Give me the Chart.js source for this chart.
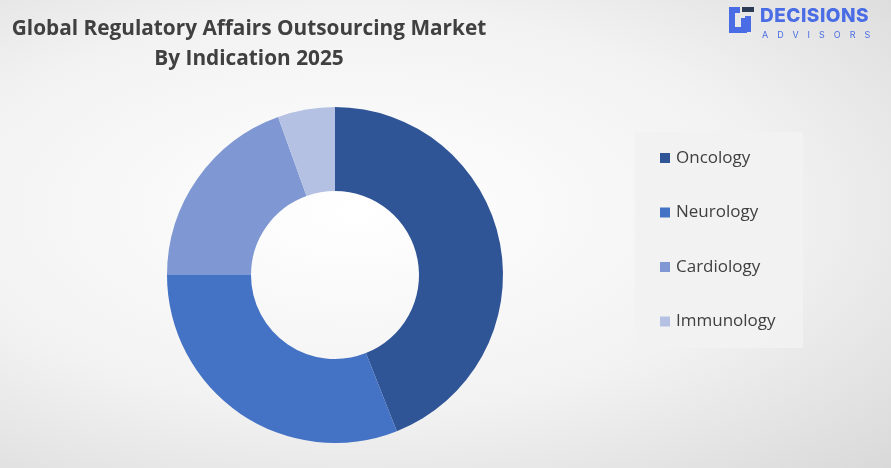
<!DOCTYPE html>
<html><head><meta charset="utf-8">
<script src="https://cdn.jsdelivr.net/npm/chart.js@4"></script>
<style>
html,body{margin:0;padding:0;}
body{width:891px;height:468px;overflow:hidden;position:relative;font-family:"Open Sans",sans-serif;
 background:radial-gradient(ellipse at 40% 45%,#ffffff 0%,#f2f2f2 55%,#d9d9d9 100%);}
#title{position:absolute;left:0;top:12px;width:498px;text-align:center;font-weight:bold;font-size:20.8px;line-height:30px;color:#404040;}
#logo{position:absolute;left:728px;top:4px;}
#logo .a{font-family:Inter,sans-serif;font-weight:800;font-size:19px;color:#4a6de5;letter-spacing:0.5px;position:absolute;left:32px;top:0;}
#logo .b{font-family:Inter,sans-serif;font-size:9px;color:#4a6de5;letter-spacing:9px;position:absolute;left:34px;top:25px;}
#wrap{position:absolute;left:0;top:0;width:891px;height:468px;}
</style></head><body>
<div id="wrap"><canvas id="c" width="891" height="468"></canvas></div>
<div id="title">Global Regulatory Affairs Outsourcing Market<br>By Indication 2025</div>
<div id="logo"><svg width="30" height="32" viewBox="0 0 30 32"><path d="M12 6 H4 V26 H16 V14" fill="none" stroke="#4a6de5" stroke-width="6"/><rect x="14" y="3" width="12" height="5" fill="#2b3a55"/><path d="M20 12 V28" stroke="#4a6de5" stroke-width="6"/></svg>
<span class="a">DECISIONS</span><span class="b">ADVISORS</span></div>
<script>
const categories = ['Oncology', 'Neurology', 'Cardiology', 'Immunology'];
const shares = [44, 31, 19.5, 5.5];
const colors = ['#2F5597', '#4472C4', '#7F97D3', '#B4C1E3'];

// legend drawn by hand so it does not shrink the doughnut
const legendBox = {
  id: 'legendBox',
  beforeDraw(chart) {
    const ctx = chart.ctx;
    ctx.save();
    ctx.fillStyle = 'rgba(242,242,242,0.9)';
    ctx.fillRect(635, 132, 168, 216);
    ctx.font = '17px "Open Sans"';
    ctx.textBaseline = 'middle';
    chart.data.labels.forEach((lab, i) => {
      const y = 158 + i * 54.5;
      ctx.fillStyle = chart.data.datasets[0].backgroundColor[i];
      ctx.fillRect(660, y - 5, 10, 10);
      ctx.fillStyle = '#404040';
      ctx.fillText(lab, 676, y);
    });
    ctx.restore();
  }
};

new Chart(document.getElementById('c'), {
  type: 'doughnut',
  data: { labels: categories, datasets: [{ data: shares, backgroundColor: colors, borderWidth: 0 }] },
  options: {
    responsive: false, animation: false, cutout: '50%',
    layout: { padding: { left: 167, right: 388, top: 107, bottom: 25 } },
    plugins: { tooltip: { enabled: false }, legend: { display: false } }
  },
  plugins: [legendBox]
});
</script>
</body></html>
